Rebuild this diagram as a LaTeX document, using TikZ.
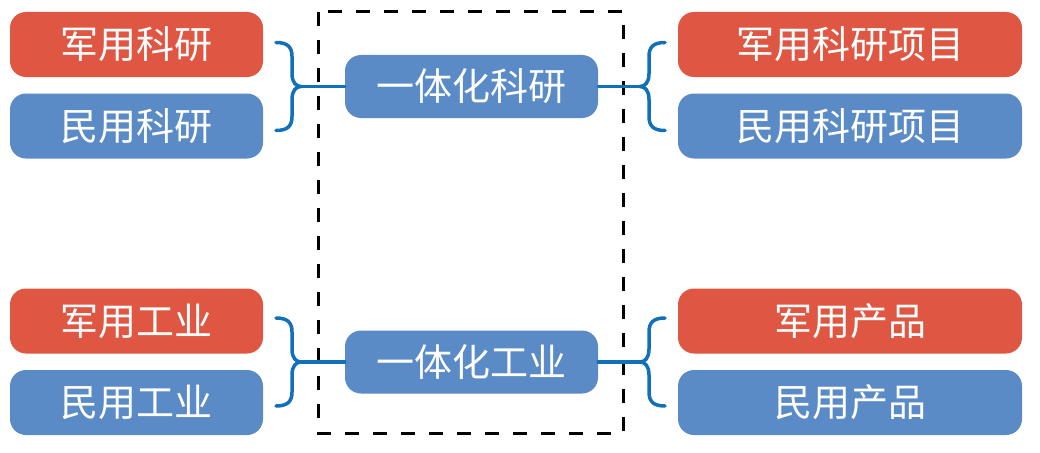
\documentclass[tikz,border=0pt]{standalone}
\usepackage{fontspec}
\setmainfont{Noto Sans CJK SC}
\definecolor{cred}{RGB}{223,87,66}
\definecolor{cblue}{RGB}{91,139,198}
\definecolor{cline}{RGB}{17,112,184}
\tikzset{
  box/.style={rounded corners=16pt, minimum height=65pt, inner sep=0pt, text=white,
    font=\fontsize{38}{42}\selectfont},
  sidebox/.style={box, minimum width=253pt},
  rightbox/.style={box, minimum width=344pt},
  midbox/.style={box, minimum width=253pt, minimum height=63pt, fill=cblue},
  braceline/.style={draw=cline, line width=3.5pt, line cap=round},
  brace/.pic={
    \draw[braceline] (-25,-44) .. controls (-14,-44) and (-9,-40) .. (-9,-30) -- (-9,-13)
      .. controls (-9,-4) and (-5,0) .. (0,0)
      .. controls (-5,0) and (-9,4) .. (-9,13) -- (-9,30)
      .. controls (-9,40) and (-14,44) .. (-25,44);
  }
}
\begin{document}
\begin{tikzpicture}[x=1pt,y=-1pt]
\useasboundingbox (0,0) rectangle (1040,452);
% dashed frame
\draw[black, line width=3pt, dash pattern=on 14pt off 14pt] (318,12) rectangle (623,433);
% left boxes
\node[sidebox, fill=cred]  (l1) at (136.5,44.5) {军用科研};
\node[sidebox, fill=cblue] (l2) at (136.5,126)  {民用科研};
\node[sidebox, fill=cred]  (l3) at (136.5,321)  {军用工业};
\node[sidebox, fill=cblue] (l4) at (136.5,402.5) {民用工业};
% middle
\node[midbox] (m1) at (471.5,86.5) {一体化科研};
\node[midbox] (m2) at (471.5,362) {一体化工业};
% right boxes
\node[rightbox, fill=cred]  (r1) at (850,44.5) {军用科研项目};
\node[rightbox, fill=cblue] (r2) at (850,126)  {民用科研项目};
\node[rightbox, fill=cred]  (r3) at (850,321)  {军用产品};
\node[rightbox, fill=cblue] (r4) at (850,402.5) {民用产品};
% braces
\coordinate (bl1) at (301,86.5);
\coordinate (br1) at (640,86.5);
\coordinate (bl2) at (301,362);
\coordinate (br2) at (640,362);
\pic at (bl1) {brace};
\pic at (bl2) {brace};
\pic[xscale=-1] at (br1) {brace};
\pic[xscale=-1] at (br2) {brace};
\draw[braceline] (bl1) -- (m1.west);
\draw[braceline] (m1.east) -- (br1);
\draw[braceline] (bl2) -- (m2.west);
\draw[braceline] (m2.east) -- (br2);
\end{tikzpicture}
\end{document}
